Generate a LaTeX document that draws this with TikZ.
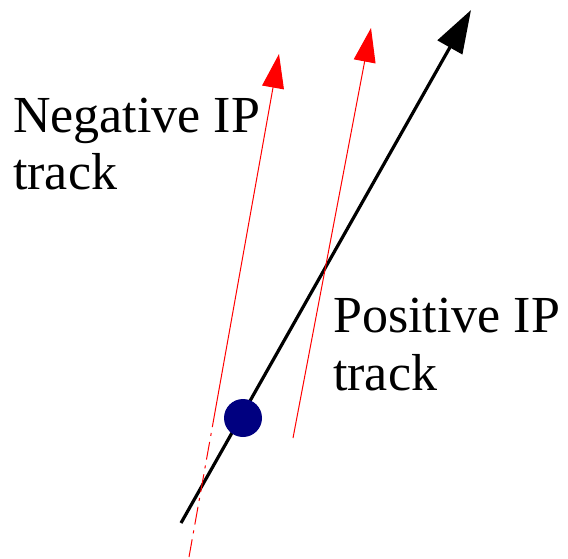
\documentclass[tikz,border=0pt]{standalone}
\usepackage{fontspec}
\setmainfont{Liberation Serif}
\newfontfamily\lserif{Liberation Serif}
\usetikzlibrary{arrows.meta}
\definecolor{navyblue}{RGB}{0,0,128}
\definecolor{trackred}{RGB}{255,0,0}
\tikzset{
  mainarrow/.style={line width=3.2pt,black,-{Triangle[length=43pt,width=28pt]}},
  redtrack/.style={line width=1pt,trackred},
  redarrow/.style={redtrack,-{Triangle[length=34pt,width=22pt]}},
  dashdotted/.style={redtrack,dash pattern=on 18pt off 6pt on 3pt off 6pt},
  lbl/.style={anchor=base west,inner sep=0pt,font=\lserif\fontsize{52}{57}\selectfont},
  vertexdot/.style={circle,fill=navyblue,minimum size=38pt,inner sep=0pt}
}
\begin{document}
\begin{tikzpicture}[x=1pt,y=-1pt]
\useasboundingbox (0,0) rectangle (568,558);
% black track
\coordinate (bstart) at (181,523);
\coordinate (btip) at (471,10);
\draw[mainarrow] (bstart) -- (btip);
% red track 1 (negative IP)
\coordinate (r1bot) at (189,557);
\coordinate (r1mid) at (215,412);
\coordinate (r1tip) at (279,54);
\draw[dashdotted] (r1bot) -- (r1mid);
\draw[redarrow] (r1mid) -- (r1tip);
% red track 2 (positive IP)
\coordinate (r2bot) at (293,438);
\coordinate (r2tip) at (371,28);
\draw[redarrow] (r2bot) -- (r2tip);
% vertex
\node[vertexdot] (vtx) at (243,418) {};
% labels
\node[lbl] (neg1) at (13,132) {Negative IP};
\node[lbl] (neg2) at (13,189) {track};
\node[lbl] (pos1) at (333,332) {Positive IP};
\node[lbl] (pos2) at (333,390) {track};
\end{tikzpicture}
\end{document}
